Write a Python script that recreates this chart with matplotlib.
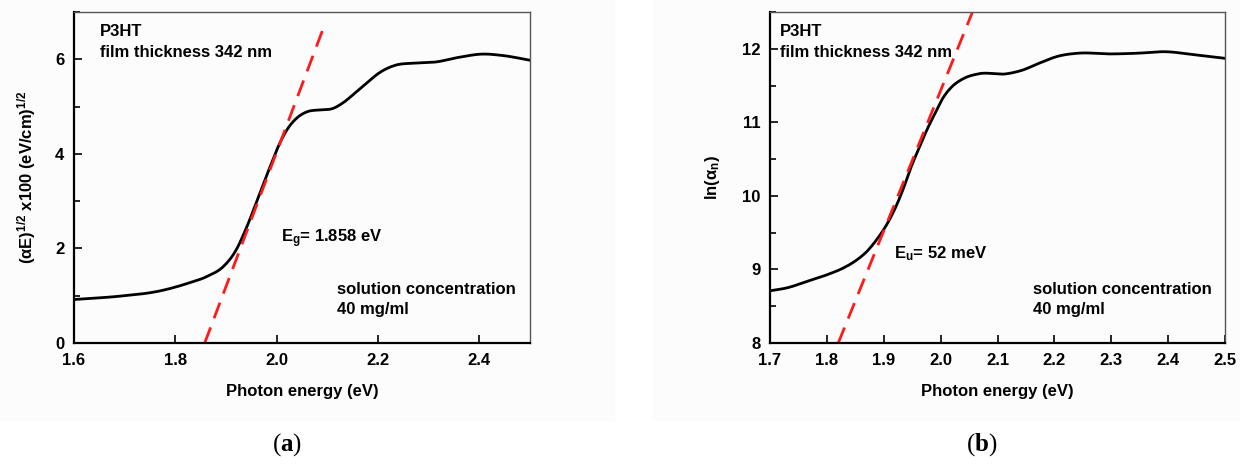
import numpy as np
import matplotlib.pyplot as plt
from matplotlib.patches import Rectangle
from matplotlib.ticker import MultipleLocator

plt.rcParams['font.family'] = 'Liberation Sans'
plt.rcParams['font.weight'] = 'bold'
plt.rcParams['mathtext.default'] = 'regular'
plt.rcParams['mathtext.fontset'] = 'custom'
plt.rcParams['mathtext.bf'] = 'Liberation Serif:bold'

# (a) Tauc plot
tauc_E = [1.60, 1.69, 1.769, 1.824, 1.863, 1.895, 1.918, 1.942, 1.966, 1.989,
          2.005, 2.021, 2.040, 2.060, 2.084, 2.111, 2.131, 2.155, 2.178, 2.202,
          2.233, 2.273, 2.312, 2.359, 2.406, 2.446, 2.50]
tauc_y = [0.92, 0.99, 1.10, 1.26, 1.41, 1.62, 1.93, 2.48, 3.15, 3.78,
          4.20, 4.52, 4.76, 4.89, 4.93, 4.96, 5.08, 5.29, 5.50, 5.71,
          5.87, 5.92, 5.94, 6.04, 6.11, 6.08, 5.98]
tauc_fit_E = [1.858, 2.095]
tauc_fit_y = [0.0, 6.74]

# (b) Urbach plot
urb_E = [1.70, 1.730, 1.766, 1.801, 1.829, 1.849, 1.871, 1.888, 1.906, 1.920,
         1.934, 1.948, 1.962, 1.976, 1.990, 2.004, 2.018, 2.039, 2.067, 2.116,
         2.144, 2.172, 2.207, 2.242, 2.298, 2.347, 2.396, 2.445, 2.50]
urb_y = [8.71, 8.75, 8.84, 8.93, 9.02, 9.11, 9.25, 9.41, 9.62, 9.83,
         10.09, 10.39, 10.65, 10.90, 11.12, 11.33, 11.47, 11.59, 11.66, 11.66,
         11.71, 11.80, 11.90, 11.94, 11.93, 11.94, 11.96, 11.92, 11.87]
urb_fit_E = [1.820, 2.056]
urb_fit_y = [8.0, 12.5]


def smooth(x, y, n=400):
    # cubic hermite through the read points
    x = np.asarray(x); y = np.asarray(y)
    xs = np.linspace(x[0], x[-1], n)
    h = np.diff(x); d = np.diff(y) / h
    m = np.zeros_like(y)
    m[1:-1] = (d[:-1] * h[1:] + d[1:] * h[:-1]) / (h[:-1] + h[1:])
    m[0], m[-1] = d[0], d[-1]
    i = np.clip(np.searchsorted(x, xs) - 1, 0, len(h) - 1)
    t = (xs - x[i]) / h[i]
    ys = ((2*t**3 - 3*t**2 + 1) * y[i] + (t**3 - 2*t**2 + t) * h[i] * m[i]
          + (-2*t**3 + 3*t**2) * y[i+1] + (t**3 - t**2) * h[i] * m[i+1])
    return xs, ys


fig = plt.figure(figsize=(12.4, 4.65), dpi=100)
for x0, w in [(0, 614), (653, 587)]:
    fig.patches.append(Rectangle((x0 / 1240, 1 - 420 / 465), w / 1240, 420 / 465,
                                 transform=fig.transFigure, color='#fcfcfc', zorder=-5))

axA = fig.add_axes([74 / 1240, 1 - 343 / 465, 456 / 1240, 331 / 465])
axB = fig.add_axes([770 / 1240, 1 - 343 / 465, 455 / 1240, 331 / 465])

FS = 12
for ax in (axA, axB):
    ax.set_facecolor('none')
    for s in ('left', 'bottom'):
        ax.spines[s].set_linewidth(1.6)
        ax.spines[s].set_color('black')
    for s in ('top', 'right'):
        ax.spines[s].set_linewidth(1.0)
        ax.spines[s].set_color('#555555')
    ax.tick_params(which='both', direction='in', top=False, right=False,
                   labelsize=FS, width=1.2, pad=7)
    ax.tick_params(which='major', length=6)
    ax.tick_params(which='minor', length=4)
    ax.set_xlabel('Photon energy (eV)', fontsize=FS, fontweight='bold', labelpad=12)

# panel (a)
xs, ys = smooth(tauc_E, tauc_y)
axA.plot(xs, ys, color='black', lw=2)
axA.plot(tauc_fit_E, tauc_fit_y, color='#ff1a1a', lw=2, dashes=(6, 3.5))
axA.set_xlim(1.6, 2.5)
axA.set_ylim(0, 7)
axA.yaxis.set_minor_locator(MultipleLocator(1))
axA.set_xticks([1.6, 1.8, 2.0, 2.2, 2.4])
axA.set_xticklabels(['1.6', '1.8', '2.0', '2.2', '2.4'], fontweight='bold')
axA.set_yticks([0, 2, 4, 6])
axA.set_yticklabels(['0', '2', '4', '6'], fontweight='bold')
axA.set_ylabel('(αE)$^{1/2}$ x100 (eV/cm)$^{1/2}$', fontsize=FS,
               fontweight='bold', labelpad=12)
axA.text(0.057, 0.94, 'P3HT', transform=axA.transAxes, fontsize=FS, va='center')
axA.text(0.057, 0.877, 'film thickness 342 nm', transform=axA.transAxes,
         fontsize=FS, va='center')
axA.text(0.454, 0.314, 'E$_g$= 1.858 eV', transform=axA.transAxes, fontsize=FS,
         va='center')
axA.text(0.576, 0.163, 'solution concentration', transform=axA.transAxes,
         fontsize=FS, va='center')
axA.text(0.576, 0.100, '40 mg/ml', transform=axA.transAxes, fontsize=FS, va='center')

# panel (b)
xs, ys = smooth(urb_E, urb_y)
axB.plot(xs, ys, color='black', lw=2)
axB.plot(urb_fit_E, urb_fit_y, color='#ff1a1a', lw=2, dashes=(6, 3.5))
axB.set_xlim(1.7, 2.5)
axB.set_ylim(8, 12.5)
axB.yaxis.set_minor_locator(MultipleLocator(0.5))
axB.set_xticks([1.7, 1.8, 1.9, 2.0, 2.1, 2.2, 2.3, 2.4, 2.5])
axB.set_xticklabels(['1.7', '1.8', '1.9', '2.0', '2.1', '2.2', '2.3', '2.4', '2.5'],
                    fontweight='bold')
axB.set_yticks([8, 9, 10, 11, 12])
axB.set_yticklabels(['8', '9', '10', '11', '12'], fontweight='bold')
axB.set_ylabel('ln(α$_n$)', fontsize=FS, fontweight='bold', labelpad=14)
axB.text(0.022, 0.94, 'P3HT', transform=axB.transAxes, fontsize=FS, va='center')
axB.text(0.022, 0.877, 'film thickness 342 nm', transform=axB.transAxes,
         fontsize=FS, va='center')
axB.text(0.272, 0.269, 'E$_u$= 52 meV', transform=axB.transAxes, fontsize=FS,
         va='center')
axB.text(0.578, 0.163, 'solution concentration', transform=axB.transAxes,
         fontsize=FS, va='center')
axB.text(0.578, 0.100, '40 mg/ml', transform=axB.transAxes, fontsize=FS, va='center')

# captions
fig.text(287 / 1240, 1 - 445 / 465, r'($\mathbf{a}$)', family='Liberation Serif',
         fontweight='normal', fontsize=18, ha='center', va='center')
fig.text(982 / 1240, 1 - 445 / 465, r'($\mathbf{b}$)', family='Liberation Serif',
         fontweight='normal', fontsize=18, ha='center', va='center')

fig.savefig('out.png', dpi=100)
